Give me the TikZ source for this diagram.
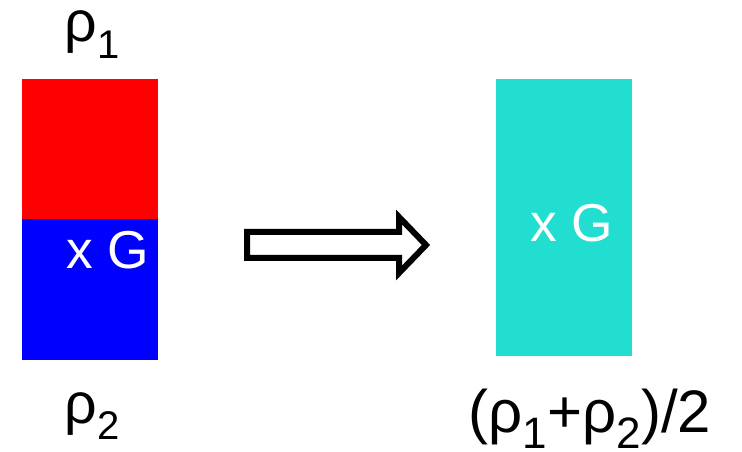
\documentclass[tikz,border=0pt]{standalone}
\usepackage{fontspec}
\setmainfont{Liberation Sans}
\usetikzlibrary{positioning}
\definecolor{topred}{RGB}{255,0,0}
\definecolor{botblue}{RGB}{0,0,255}
\definecolor{mixcyan}{RGB}{34,222,208}
\newcommand{\sbs}[2][26]{\raisebox{-0.28em}{\fontsize{#1}{#1}\selectfont #2}}
\tikzset{
  lab/.style={font=\fontsize{40}{44}\selectfont, inner sep=0pt},
  rholab/.style={font=\fontsize{43}{47}\selectfont, inner sep=0pt, anchor=base},
  biglab/.style={font=\fontsize{45}{50}\selectfont, inner sep=0pt, anchor=base},
  inlab/.style={lab, text=white, anchor=base west},
  hollow/.style={draw=black, line width=4.5pt, fill=white, line join=miter},
}
\begin{document}
\begin{tikzpicture}[x=0.75pt,y=-0.75pt]
  \path[use as bounding box] (0,0) rectangle (742,452);

  % left column: two densities
  \fill[topred] (22,79) rectangle (158,219);
  \fill[botblue] (22,219) rectangle (158,360);
  \node[rholab] (rhoA) at (92,42) {ρ\sbs[30]{1}};
  \node[rholab] (rhoB) at (92,423) {ρ\sbs[30]{2}};
  \node[inlab] (gA) at (66,268) {x G};

  % transition
  \draw[hollow] (247,232) -- (399,232) -- (399,217) -- (426,245)
    -- (399,273) -- (399,258) -- (247,258) -- cycle;

  % right column: mixed result
  \fill[mixcyan] (496,79) rectangle (632,356);
  \node[inlab] (gB) at (530,242) {x G};
  \node[biglab] (rhoM) at (590,432)
    {(ρ\sbs[33]{1}+ρ\sbs[33]{2})/2};
\end{tikzpicture}
\end{document}
